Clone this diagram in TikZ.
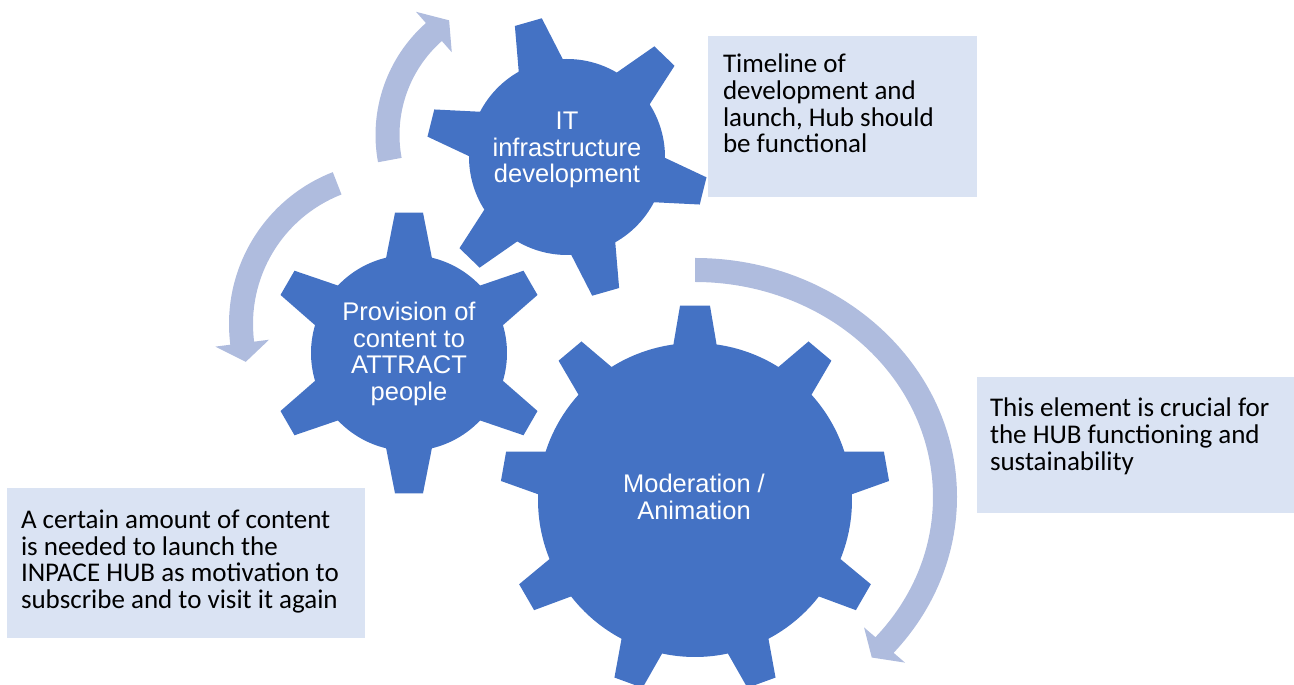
\documentclass[tikz,border=0pt]{standalone}
\usepackage{fontspec}
\setmainfont{Carlito}
\newfontfamily\arialfont{Liberation Sans}
\definecolor{gearblue}{HTML}{4472C4}
\definecolor{arrowblue}{RGB}{175,188,222}
\definecolor{boxblue}{HTML}{DAE3F3}
\tikzset{every picture/.style={x=1pt, y=1pt}}
\tikzset{gearfill/.style={fill=gearblue}}
\tikzset{arrowfill/.style={fill=arrowblue}}
\tikzset{notebox/.style={fill=boxblue, inner sep=0pt}}
\tikzset{notetext/.style={anchor=north west, inner sep=0pt, align=left, font=\fontsize{27}{26.7}\selectfont}}
\tikzset{geartext/.style={text=white, inner sep=0pt, align=center, font=\arialfont\fontsize{25.5}{26.5}\selectfont}}

\begin{document}
\begin{tikzpicture}
\useasboundingbox (0,0) rectangle (1294,685);
% curved arrows round the gears
\foreach \cx/\cy/\rx/\ry/\a/\b/\t in {525/550/137.5/137.5/190.5/131.5/123.5, 392/361/151/151/111.3/187.3/194.5, 695/188/250/227/90/-40.7/-45} {
\fill[arrowfill] ({\cx+(\rx+12)*cos(\a)},{\cy+(\ry+12)*sin(\a)})
  arc[start angle=\a, end angle=\b, x radius={\rx+12}, y radius={\ry+12}]
  -- ({\cx+(\rx+27)*cos(\b)},{\cy+(\ry+27)*sin(\b)})
  -- ({\cx+\rx*cos(\t)},{\cy+\ry*sin(\t)})
  -- ({\cx+(\rx-27)*cos(\b)},{\cy+(\ry-27)*sin(\b)})
  -- ({\cx+(\rx-12)*cos(\b)},{\cy+(\ry-12)*sin(\b)})
  arc[start angle=\b, end angle=\a, x radius={\rx-12}, y radius={\ry-12}] -- cycle;
}
% gears
\foreach \gx/\gy/\n/\rb/\rt/\rot/\bh/\th in {567/528/6/98/141/46/13.5/5.7, 409/332/6/98/141/90/13.5/5.7, 695/185/9/157/195/10/7.9/4.4} {
\pgfmathsetmacro{\st}{360/\n}
\fill[gearfill, shift={(\gx,\gy)}] ({\rot+\bh}:\rb)
  \foreach \k in {1,...,\n} {
    arc[start angle={\rot+(\k-1)*\st+\bh}, end angle={\rot+\k*\st-\bh}, radius=\rb]
    -- ({\rot+\k*\st-\th}:\rt) -- ({\rot+\k*\st+\th}:\rt) -- ({\rot+\k*\st+\bh}:\rb)
  } -- cycle;
}
\node[geartext] (itdev) at (567,535) {IT\\infrastructure\\development};
\node[geartext] (provision) at (409,331) {Provision of\\content to\\ATTRACT\\people};
\node[geartext] (moderation) at (694,188) {Moderation /\\Animation};
% notes
\node[notebox, minimum width=269, minimum height=161] (timelinebox) at (842.5,568.5) {};
\node[notetext] (timeline) at ([xshift=15,yshift=-18]timelinebox.north west) {Timeline of\\development and\\launch, Hub should\\be functional};
\node[notebox, minimum width=317, minimum height=136] (crucialbox) at (1135.5,240) {};
\node[notetext] (crucial) at ([xshift=13,yshift=-21]crucialbox.north west) {This element is crucial for\\the HUB functioning and\\sustainability};
\node[notebox, minimum width=358, minimum height=150] (contentbox) at (186,122) {};
\node[notetext] (content) at ([xshift=14,yshift=-22]contentbox.north west) {A certain amount of content\\is needed to launch the\\INPACE HUB as motivation to\\subscribe and to visit it again};
\end{tikzpicture}
\end{document}
